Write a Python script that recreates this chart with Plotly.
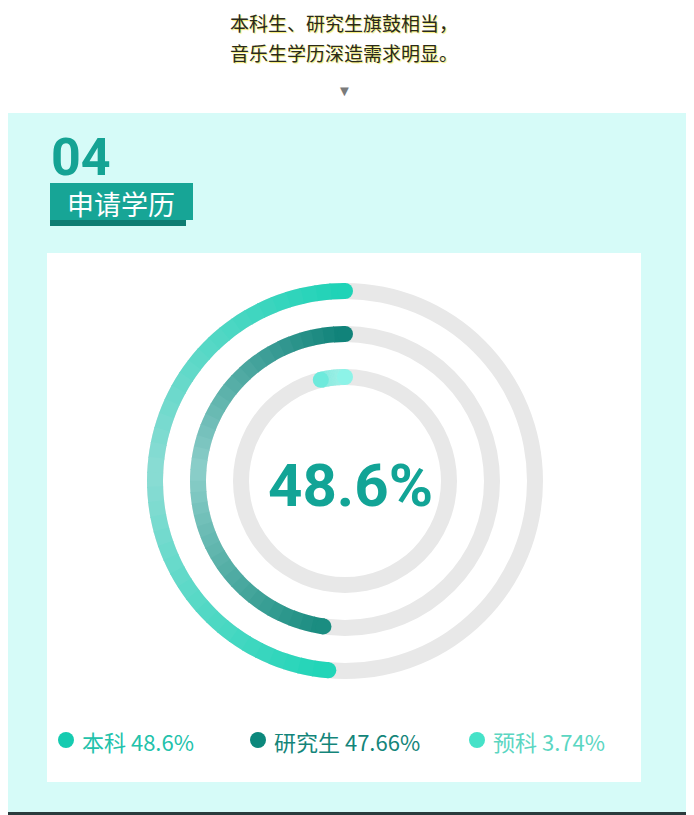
import plotly.graph_objects as go

# %% data
LEVELS = ["本科", "研究生", "预科"]
SHARES = [48.6, 47.66, 3.74]

HEADLINE = ["本科生、研究生旗鼓相当，", "音乐生学历深造需求明显。"]
SECTION_NO = "04"
SECTION_TITLE = "申请学历"

# %% styling
# the page body has an 8px margin, so the figure is drawn 8px in from the corner
OFFSET = 8
W, H = 694 - OFFSET, 815 - OFFSET
FONT_CN = "Noto Sans CJK SC"
FONT_NUM = "Roboto"

TRACK = "#e8e8e8"
RING_R = [190, 147, 104]   # stroke centre radius, px
STROKE = 16

# gradient stops per ring: start (top) -> middle -> end
RING_SCALES = [
    [[0, "#1fd3b7"], [0.5, "#8bdcd4"], [1, "#22d5b8"]],
    [[0, "#11837a"], [0.5, "#8ccfca"], [1, "#1b8d81"]],
    [[0, "#8df3e8"], [1, "#6eeadc"]],
]
CAP_COLORS = [("#1fd3b7", "#22d5b8"), ("#11837a", "#1b8d81"), ("#8df3e8", "#6eeadc")]
DOT_COLORS = ["#15cbb0", "#0c887c", "#45e2c8"]
TEXT_COLORS = ["#22c2ab", "#14857a", "#5bd6c2"]

SEGMENTS = 40


def px(x):
    # screen x -> paper
    return (x - OFFSET) / W


def py(y):
    # screen y -> paper
    return 1 - (y - OFFSET) / H


fig = go.Figure()

# %% rings
for i, (share, r) in enumerate(zip(SHARES, RING_R)):
    # grey track
    fig.add_trace(go.Barpolar(
        r=[STROKE], base=[r - STROKE / 2], theta=[180], width=[360],
        marker=dict(color=TRACK, line=dict(width=0)),
        showlegend=False, hoverinfo="skip",
    ))

    span = share * 3.6
    step = span / SEGMENTS
    thetas = [step * (k + 0.5) for k in range(SEGMENTS)]
    fig.add_trace(go.Barpolar(
        r=[STROKE] * SEGMENTS,
        base=[r - STROKE / 2] * SEGMENTS,
        theta=thetas,
        width=[step * 1.08] * SEGMENTS,
        marker=dict(
            color=[k / (SEGMENTS - 1) for k in range(SEGMENTS)],
            colorscale=RING_SCALES[i], cmin=0, cmax=1,
            line=dict(width=0),
        ),
        showlegend=False, hoverinfo="skip",
    ))

    # round caps
    fig.add_trace(go.Scatterpolar(
        r=[r, r], theta=[0, span], mode="markers",
        marker=dict(size=STROKE, color=list(CAP_COLORS[i]), line=dict(width=0)),
        showlegend=False, hoverinfo="skip",
    ))

cx, cy, half = 345, 481, 200
fig.update_layout(
    polar=dict(
        domain=dict(x=[px(cx - half), px(cx + half)], y=[py(cy + half), py(cy - half)]),
        bgcolor="rgba(0,0,0,0)",
        radialaxis=dict(range=[0, half], visible=False),
        angularaxis=dict(rotation=90, direction="counterclockwise", visible=False),
        barmode="overlay",
    )
)

# %% background blocks
shapes = [
    dict(type="rect", xref="paper", yref="paper", layer="below",
         x0=px(8), x1=px(686), y0=py(812), y1=py(113),
         fillcolor="#d6fbf8", line=dict(width=0)),
    dict(type="rect", xref="paper", yref="paper", layer="below",
         x0=px(47), x1=px(641), y0=py(782), y1=py(253),
         fillcolor="#ffffff", line=dict(width=0)),
    dict(type="rect", xref="paper", yref="paper", layer="below",
         x0=px(50), x1=px(186), y0=py(226), y1=py(216),
         fillcolor="#0e7c72", line=dict(width=0)),
    dict(type="rect", xref="paper", yref="paper", layer="below",
         x0=px(50), x1=px(193), y0=py(220), y1=py(183),
         fillcolor="#17a596", line=dict(width=0)),
    dict(type="rect", xref="paper", yref="paper", layer="below",
         x0=0, x1=1, y0=0, y1=py(812),
         fillcolor="#2a3b3d", line=dict(width=0)),
]

annotations = []

# headline
for k, line in enumerate(HEADLINE):
    annotations.append(dict(
        text=line, x=px(344), y=py(22 + 31 * k), xref="paper", yref="paper",
        showarrow=False, xanchor="center", yanchor="middle",
        font=dict(family=FONT_CN, size=19, color="#2a2a1a",
                  shadow="1px 1px 1px #f3ea6a"),
    ))
annotations.append(dict(
    text="▼", x=px(344), y=py(90), xref="paper", yref="paper",
    showarrow=False, xanchor="center", yanchor="middle",
    font=dict(size=15, color="#7a7a7a"),
))

# section header
annotations.append(dict(
    text=f"<b>{SECTION_NO}</b>", x=px(49), y=py(158), xref="paper", yref="paper",
    showarrow=False, xanchor="left", yanchor="middle",
    font=dict(family=FONT_NUM, size=52, color="#15a394"),
))
annotations.append(dict(
    text=SECTION_TITLE, x=px(121), y=py(203), xref="paper", yref="paper",
    showarrow=False, xanchor="center", yanchor="middle",
    font=dict(family=FONT_CN, size=27, color="#ffffff"),
))

# centre value
annotations.append(dict(
    text=f"<b>{SHARES[0]}%</b>", x=px(350), y=py(485), xref="paper", yref="paper",
    showarrow=False, xanchor="center", yanchor="middle",
    font=dict(family=FONT_NUM, size=60, color="#12a496"),
))

# legend
dot_x = [66, 258, 477]
for name, share, dx, dc, tc in zip(LEVELS, SHARES, dot_x, DOT_COLORS, TEXT_COLORS):
    shapes.append(dict(
        type="circle", xref="paper", yref="paper",
        x0=px(dx - 8), x1=px(dx + 8), y0=py(740 + 8), y1=py(740 - 8),
        fillcolor=dc, line=dict(width=0),
    ))
    annotations.append(dict(
        text=f"{name} {share}%", x=px(dx + 14), y=py(741), xref="paper", yref="paper",
        showarrow=False, xanchor="left", yanchor="middle",
        font=dict(family=FONT_CN, size=22, color=tc),
    ))

fig.update_layout(
    width=W,
    height=H,
    margin=dict(l=0, r=0, t=0, b=0),
    paper_bgcolor="#ffffff",
    plot_bgcolor="#ffffff",
    shapes=shapes,
    annotations=annotations,
    showlegend=False,
)

fig.write_html("out.html")
